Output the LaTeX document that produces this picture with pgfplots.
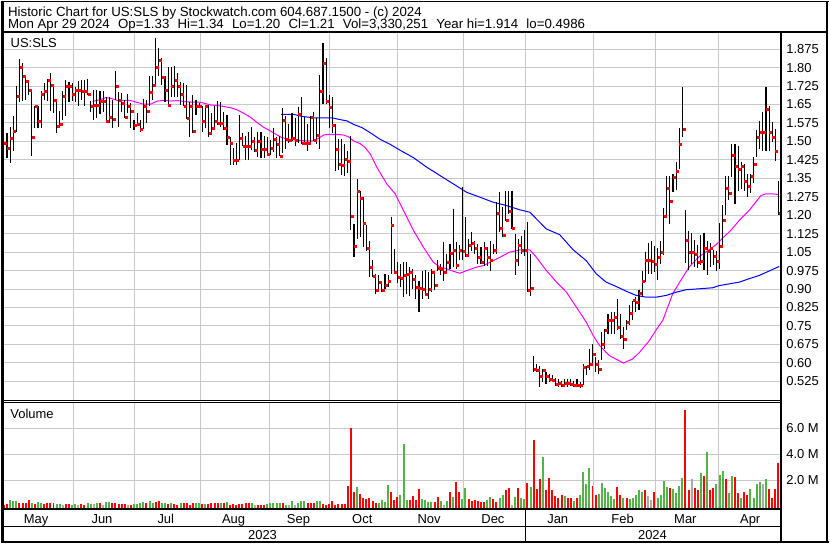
\documentclass[border=0pt]{standalone}
\usepackage{pgfplots}
\pgfplotsset{compat=1.18}
\usepackage{pgfplotstable}
\usepackage{fontspec}
\setmainfont{Liberation Sans}
\definecolor{vgreen}{RGB}{80,180,70}
\definecolor{vred}{RGB}{255,0,0}
\definecolor{vgray}{RGB}{170,170,170}
\definecolor{gridc}{RGB}{200,200,200}
\definecolor{maline}{RGB}{255,0,255}
\definecolor{baline}{RGB}{0,0,255}
\newcommand\hfont{\fontsize{13.3bp}{16bp}\selectfont}
\newcommand\lfont{\fontsize{13bp}{15bp}\selectfont}
\newcommand\gap{\hspace{8.3bp}}

\pgfplotstableread{
i hi lo cl
0 1.513 1.411 1.492
1 1.533 1.431 1.472
2 1.560 1.411 1.513
3 1.604 1.463 1.540
4 1.726 1.540 1.682
5 1.834 1.662 1.800
6 1.818 1.666 1.764
7 1.764 1.669 1.743
8 1.743 1.689 1.709
9 1.705 1.441 1.519
10 1.644 1.553 1.642
11 1.642 1.553 1.581
12 1.705 1.553 1.692
13 1.739 1.669 1.703
14 1.753 1.666 1.750
15 1.777 1.624 1.730
16 1.734 1.614 1.669
17 1.665 1.533 1.560
18 1.624 1.565 1.571
19 1.703 1.587 1.682
20 1.750 1.604 1.726
21 1.743 1.662 1.723
22 1.737 1.666 1.692
23 1.720 1.662 1.709
24 1.746 1.644 1.709
25 1.750 1.669 1.703
26 1.750 1.642 1.703
27 1.753 1.689 1.692
28 1.665 1.621 1.642
29 1.709 1.585 1.648
30 1.709 1.594 1.648
31 1.705 1.612 1.662
32 1.703 1.621 1.662
33 1.682 1.576 1.581
34 1.680 1.575 1.600
35 1.669 1.553 1.590
36 1.787 1.669 1.723
37 1.699 1.560 1.669
38 1.696 1.621 1.655
39 1.669 1.594 1.598
40 1.692 1.614 1.642
41 1.655 1.553 1.621
42 1.587 1.547 1.567
43 1.614 1.567 1.570
44 1.587 1.540 1.551
45 1.671 1.549 1.642
46 1.669 1.574 1.621
47 1.764 1.642 1.699
48 1.766 1.669 1.730
49 1.920 1.723 1.800
50 1.879 1.764 1.832
51 1.838 1.730 1.760
52 1.764 1.662 1.709
53 1.804 1.648 1.648
54 1.804 1.682 1.723
55 1.807 1.682 1.750
56 1.777 1.682 1.723
57 1.743 1.648 1.692
58 1.737 1.644 1.644
59 1.730 1.590 1.594
60 1.662 1.519 1.642
61 1.689 1.533 1.540
62 1.669 1.608 1.642
63 1.655 1.635 1.642
64 1.644 1.540 1.581
65 1.648 1.553 1.642
66 1.648 1.519 1.533
67 1.614 1.540 1.553
68 1.642 1.547 1.581
69 1.665 1.567 1.574
70 1.662 1.560 1.574
71 1.621 1.547 1.553
72 1.608 1.486 1.519
73 1.519 1.404 1.492
74 1.472 1.404 1.422
75 1.492 1.404 1.422
76 1.608 1.425 1.513
77 1.533 1.481 1.481
78 1.522 1.425 1.481
79 1.540 1.425 1.481
80 1.560 1.465 1.499
81 1.519 1.458 1.465
82 1.540 1.438 1.502
83 1.540 1.431 1.468
84 1.522 1.431 1.468
85 1.519 1.448 1.449
86 1.506 1.445 1.472
87 1.553 1.458 1.510
88 1.519 1.431 1.490
89 1.522 1.441 1.441
90 1.635 1.452 1.587
91 1.604 1.468 1.509
92 1.572 1.495 1.504
93 1.617 1.502 1.513
94 1.597 1.481 1.504
95 1.640 1.495 1.610
96 1.681 1.488 1.492
97 1.600 1.488 1.492
98 1.570 1.461 1.492
99 1.604 1.495 1.597
100 1.621 1.502 1.506
101 1.597 1.488 1.526
102 1.770 1.468 1.705
103 1.899 1.651 1.817
104 1.841 1.651 1.665
105 1.688 1.556 1.638
106 1.681 1.536 1.567
107 1.570 1.379 1.468
108 1.509 1.385 1.406
109 1.509 1.362 1.404
110 1.488 1.360 1.429
111 1.460 1.370 1.420
112 1.520 1.138 1.195
113 1.165 1.029 1.073
114 1.348 1.104 1.298
115 1.300 1.111 1.269
116 1.273 1.070 1.168
117 1.162 1.056 1.066
118 1.097 0.948 0.989
119 1.016 0.948 0.951
120 0.962 0.880 0.894
121 0.955 0.901 0.928
122 0.921 0.887 0.894
123 0.959 0.901 0.914
124 0.955 0.907 0.930
125 1.192 0.962 1.158
126 1.061 0.964 0.968
127 1.009 0.924 0.948
128 1.002 0.907 0.944
129 1.009 0.867 0.955
130 1.009 0.880 0.962
131 0.989 0.873 0.968
132 0.982 0.901 0.941
133 0.955 0.860 0.907
134 0.934 0.806 0.905
135 0.975 0.860 0.901
136 0.978 0.873 0.878
137 0.968 0.860 0.901
138 0.982 0.887 0.968
139 0.975 0.894 0.917
140 1.016 0.975 0.985
141 1.002 0.955 0.982
142 1.090 0.934 0.968
143 1.043 0.975 1.009
144 1.083 0.982 1.046
145 1.226 0.989 1.056
146 1.090 0.982 0.995
147 1.077 1.016 1.056
148 1.314 1.016 1.054
149 1.192 1.029 1.039
150 1.104 1.043 1.077
151 1.131 1.056 1.086
152 1.097 1.043 1.066
153 1.083 1.002 1.029
154 1.070 1.002 1.009
155 1.090 0.995 1.066
156 1.070 0.995 1.029
157 1.097 0.975 1.018
158 1.083 1.043 1.059
159 1.253 1.043 1.208
160 1.294 1.131 1.147
161 1.233 1.111 1.117
162 1.300 1.178 1.178
163 1.300 1.206 1.215
164 1.300 1.144 1.147
165 1.124 0.955 1.016
166 1.104 0.995 1.077
167 1.117 1.043 1.059
168 1.138 1.036 1.057
169 1.172 0.887 0.894
170 1.043 0.873 0.903
171 0.626 0.563 0.576
172 0.596 0.563 0.572
173 0.589 0.501 0.545
174 0.576 0.522 0.569
175 0.562 0.515 0.545
176 0.555 0.522 0.535
177 0.549 0.525 0.530
178 0.539 0.504 0.515
179 0.535 0.501 0.518
180 0.528 0.501 0.508
181 0.535 0.515 0.518
182 0.535 0.501 0.518
183 0.535 0.505 0.512
184 0.528 0.501 0.511
185 0.535 0.503 0.511
186 0.521 0.499 0.508
187 0.596 0.508 0.582
188 0.589 0.549 0.585
189 0.657 0.569 0.596
190 0.677 0.589 0.634
191 0.623 0.562 0.596
192 0.610 0.555 0.573
193 0.725 0.610 0.677
194 0.738 0.657 0.732
195 0.799 0.718 0.772
196 0.806 0.718 0.775
197 0.806 0.718 0.786
198 0.860 0.732 0.745
199 0.799 0.698 0.708
200 0.745 0.657 0.698
201 0.772 0.732 0.765
202 0.833 0.752 0.802
203 0.853 0.772 0.853
204 0.867 0.806 0.846
205 0.894 0.813 0.883
206 0.975 0.870 0.931
207 1.050 0.930 1.016
208 1.089 0.960 1.019
209 1.094 0.960 1.012
210 1.076 0.970 1.001
211 1.066 0.937 1.029
212 1.094 1.000 1.050
213 1.230 1.040 1.197
214 1.361 1.190 1.310
215 1.361 1.166 1.257
216 1.368 1.294 1.355
217 1.416 1.301 1.379
218 1.553 1.389 1.487
219 1.722 1.517 1.549
220 1.223 1.005 1.100
221 1.135 0.978 1.049
222 1.128 1.000 1.049
223 1.100 0.991 1.043
224 1.080 0.984 1.009
225 1.121 0.998 1.012
226 1.128 0.978 1.066
227 1.094 0.957 1.053
228 1.087 0.990 1.066
229 1.060 0.998 1.032
230 1.053 0.975 1.015
231 1.169 0.980 1.073
232 1.240 1.080 1.179
233 1.361 1.200 1.310
234 1.361 1.260 1.290
235 1.490 1.355 1.443
236 1.490 1.247 1.398
237 1.483 1.300 1.389
238 1.416 1.308 1.398
239 1.409 1.300 1.337
240 1.368 1.274 1.318
241 1.368 1.290 1.359
242 1.436 1.330 1.406
243 1.547 1.436 1.517
244 1.584 1.470 1.537
245 1.621 1.463 1.537
246 1.722 1.463 1.632
247 1.645 1.463 1.537
248 1.578 1.497 1.517
249 1.551 1.422 1.460
250 1.340 1.200 1.210
}\prices

\pgfplotsset{
  panel/.style={
    anchor=south west, scale only axis, width=780.5bp,
    xmin=-0.386, xmax=250.9,
    axis line style={draw=none},
    xtick={22.3,42.0,63.3,85.6,105,126.9,148.2,168.5,190.4,210.3,230.6},
    xticklabels={},
    major tick length=0pt,
    grid=major, grid style={gridc, line width=1bp},
    yticklabel pos=right,
    yticklabel style={anchor=west, inner sep=0pt, xshift=5bp, font=\lfont},
  },
  volbar/.style={draw=none, no markers, forget plot,
    error bars/.cd, y dir=minus, y fixed=20, error mark=none,
    error bar style={draw=#1, line width=2bp}},
}

\begin{document}
\begin{tikzpicture}[x=1bp,y=1bp]
\fill[white] (0,0) rectangle (830,543);

\begin{axis}[panel, at={(1.5bp,143bp)}, height=369bp,
  ymin=0.448, ymax=1.9439,
  ytick={0.525,0.6,0.675,0.75,0.825,0.9,0.975,1.05,1.125,1.2,1.275,1.35,1.425,1.5,1.575,1.65,1.725,1.8,1.875},
  yticklabels={0.525,0.60,0.675,0.75,0.825,0.90,0.975,1.05,1.125,1.20,1.275,1.35,1.425,1.50,1.575,1.65,1.725,1.80,1.875},
]
\addplot[maline, line width=1bp, no markers] coordinates {
(28.65,1.662)(31.33,1.671)(32.94,1.678)(34.55,1.675)(36.70,1.666)(38.83,1.667)(40.98,1.666)(43.14,1.658)(45.27,1.651)(47.42,1.652)(49.58,1.664)(51.71,1.667)(53.86,1.664)(56.02,1.666)(58.15,1.662)(60.30,1.660)(63.52,1.659)(66.74,1.648)(69.96,1.644)(73.18,1.637)(75.34,1.628)(77.46,1.614)(79.62,1.598)(81.78,1.576)(83.90,1.557)(86.06,1.542)(89.28,1.518)(91.44,1.509)(94.66,1.505)(97.87,1.502)(100.0,1.502)(101.6,1.513)(103.2,1.526)(104.8,1.529)(107.0,1.529)(109.7,1.526)(111.3,1.518)(112.9,1.502)(115.0,1.491)(116.6,1.475)(118.3,1.448)(120.4,1.395)(123.6,1.327)(126.3,1.287)(129.0,1.219)(132.2,1.138)(135.4,1.070)(138.6,1.009)(140.8,0.989)(143.0,0.982)(145.1,0.972)(147.2,0.964)(149.4,0.975)(152.6,0.989)(154.7,0.995)(156.9,1.009)(160.1,1.029)(163.3,1.050)(166.5,1.059)(169.8,1.059)(171.9,1.029)(175.1,0.975)(178.4,0.928)(181.6,0.887)(184.8,0.826)(188.0,0.765)(190.2,0.711)(192.3,0.670)(195.5,0.629)(200.0,0.599)(203.0,0.616)(205.2,0.643)(208.4,0.691)(210.6,0.735)(212.7,0.773)(214.3,0.827)(215.9,0.881)(218.6,0.937)(221.3,0.991)(224.5,1.032)(227.7,1.060)(229.9,1.080)(232.0,1.107)(234.7,1.139)(237.4,1.179)(240.6,1.220)(242.7,1.253)(244.4,1.280)(246.0,1.287)(248.1,1.287)(250.0,1.284)};
\addplot[baline, line width=1bp, no markers] coordinates {
(89.5,1.610)(93.56,1.610)(95.72,1.603)(97.87,1.599)(100.0,1.596)(103.2,1.596)(105.9,1.596)(108.0,1.590)(110.8,1.583)(112.9,1.569)(115.6,1.556)(118.3,1.535)(121.5,1.508)(124.7,1.488)(127.9,1.464)(132.2,1.434)(136.5,1.395)(140.8,1.361)(145.1,1.327)(149.4,1.293)(153.7,1.273)(157.9,1.253)(162.3,1.239)(166.5,1.222)(169.8,1.212)(171.9,1.185)(175.1,1.144)(179.4,1.121)(183.7,1.060)(188.0,1.015)(191.2,0.962)(194.4,0.928)(197.7,0.910)(200.9,0.891)(204.1,0.874)(207.3,0.867)(210.6,0.867)(213.8,0.874)(217.0,0.887)(220.2,0.897)(224.5,0.901)(228.8,0.905)(230.9,0.914)(234.2,0.921)(237.4,0.928)(240.6,0.942)(243.8,0.955)(247.0,0.973)(250.3,0.992)};
\addplot[draw=none, no markers, error bars/.cd, y dir=minus, y explicit, error mark=none,
  error bar style={draw=black, line width=1.1bp}]
  table[x=i, y=hi, y error minus expr=\thisrow{hi}-\thisrow{lo}] {\prices};
\addplot[only marks, mark=square*, mark size=1bp, color=vred,
  every mark/.append style={xshift=1.4bp}] table[x=i, y=cl] {\prices};
\end{axis}

\begin{axis}[panel, at={(1.5bp,33.7bp)}, height=107.3bp,
  ymin=-0.255, ymax=8.03,
  ytick={2,4,6}, yticklabels={2.0 M,4.0 M,6.0 M},
]
\addplot[volbar=vred] coordinates {
(0,0.10)(1,0.15)(5,0.25)(6,0.25)(7,0.25)(8,0.45)(10,0.15)(13,0.15)(14,0.25)(15,0.20)(16,0.25)(20,0.15)(21,0.15)(25,0.12)(26,0.10)(31,0.25)(35,0.25)(36,0.20)(37,0.15)(38,0.15)(39,0.15)(41,0.05)(46,0.20)(49,0.30)(50,0.35)(53,0.15)(55,0.15)(56,0.10)(58,0.25)(59,0.20)(60,0.10)(61,0.20)(64,0.15)(66,0.15)(67,0.20)(68,0.20)(69,0.20)(71,0.25)(73,0.10)(74,0.15)(75,0.10)(76,0.15)(77,0.15)(78,0.20)(79,0.20)(82,0.10)(83,0.10)(84,0.10)(90,0.20)(98,0.20)(99,0.25)(100,0.25)(103,0.15)(104,0.10)(105,0.15)(106,0.38)(107,0.10)(108,0.15)(109,0.15)(110,0.12)(111,1.55)(112,6.00)(113,1.10)(115,0.90)(116,0.65)(117,0.55)(118,0.62)(119,0.38)(120,0.25)(125,1.10)(126,0.45)(127,0.70)(131,0.45)(132,0.80)(133,0.45)(134,1.30)(139,0.30)(140,0.67)(144,1.10)(146,1.87)(147,1.10)(150,0.50)(151,0.38)(152,0.45)(153,0.38)(154,0.30)(155,0.30)(158,0.50)(159,0.30)(162,1.25)(163,1.37)(166,1.37)(169,1.75)(171,5.10)(172,1.30)(173,2.10)(175,1.20)(176,2.20)(177,1.20)(178,0.75)(179,0.62)(180,0.87)(182,0.62)(183,0.62)(185,0.62)(190,1.55)(191,0.87)(198,1.45)(199,0.87)(201,0.62)(207,1.20)(210,1.10)(215,1.37)(220,7.40)(221,1.25)(223,1.37)(224,1.20)(226,2.30)(228,1.20)(229,1.37)(233,2.10)(236,2.25)(237,1.00)(239,1.10)(240,0.87)(247,1.30)(248,0.62)(249,1.30)(250,3.33)};
\addplot[volbar=vgreen] coordinates {
(2,0.45)(3,0.35)(4,0.40)(9,0.20)(11,0.30)(12,0.25)(17,0.15)(18,0.15)(22,0.10)(23,0.12)(27,0.20)(28,0.15)(30,0.20)(33,0.30)(34,0.30)(42,0.15)(43,0.15)(44,0.20)(45,0.30)(47,0.40)(48,0.25)(51,0.20)(52,0.25)(54,0.20)(57,0.25)(62,0.20)(63,0.25)(65,0.15)(70,0.20)(72,0.30)(80,0.25)(85,0.15)(86,0.20)(87,0.20)(88,0.20)(89,0.25)(91,0.10)(93,0.40)(95,0.25)(96,0.35)(97,0.40)(101,0.35)(102,0.40)(114,1.50)(121,0.25)(122,0.45)(123,0.32)(124,1.65)(128,0.82)(129,4.80)(130,0.45)(135,0.55)(136,0.45)(137,0.30)(138,0.30)(141,0.38)(143,0.38)(145,0.67)(148,0.50)(149,1.37)(156,0.45)(157,0.70)(160,0.62)(161,0.87)(165,0.67)(167,0.62)(168,0.50)(170,1.45)(174,3.75)(181,0.75)(184,0.38)(186,0.87)(187,2.60)(188,1.70)(189,2.95)(192,0.95)(193,1.80)(194,1.37)(195,1.10)(196,0.80)(197,0.55)(200,0.62)(202,0.55)(203,0.62)(204,0.87)(205,1.25)(206,1.10)(211,0.62)(212,0.87)(213,1.95)(214,1.50)(216,1.30)(217,1.00)(218,1.55)(219,2.20)(225,2.55)(227,4.20)(230,1.70)(231,2.40)(232,2.70)(234,1.00)(235,2.30)(238,0.62)(241,1.30)(242,0.62)(243,1.70)(244,1.87)(246,2.10)};
\addplot[volbar=vgray] coordinates {
(19,0.05)(24,0.10)(29,0.15)(32,0.05)(40,0.10)(81,0.05)(92,0.10)(94,0.10)(142,0.05)(164,0.05)(208,0.75)(209,0.45)(222,2.10)(245,1.70)};
\end{axis}

% frame lines
\draw[line width=1bp] (0,143) -- (782,143);
\draw[line width=1bp] (0,141) -- (782,141);
\draw[line width=1.7bp] (0,33.7) -- (782,33.7);
\draw[line width=1.7bp] (0,16.3) -- (782,16.3);
\draw[line width=1.7bp] (781.7,0) -- (781.7,512.3);
\draw[line width=1.7bp] (525.7,1) -- (525.7,33.7);
\draw[line width=2.5bp] (0,512.3) -- (829,512.3);
\draw[line width=2.6bp] (1.3,0) -- (1.3,543);
\draw[line width=2bp] (0,1.2) -- (830,1.2);
\draw[line width=1.7bp] (828.2,0) -- (828.2,543);
\draw[line width=1bp] (0,542.5) -- (830,542.5);

% texts
\begin{scope}[every node/.style={inner sep=0pt}]
\node[anchor=base west] at (6.7,528) {\hfont Historic Chart for US:SLS by Stockwatch.com 604.687.1500 - (c) 2024};
\node[anchor=base west] at (6.7,515.9) {\hfont Mon Apr 29 2024\gap Op=1.33\gap Hi=1.34\gap Lo=1.20\gap Cl=1.21\gap Vol=3,330,251\gap Year hi=1.914\gap lo=0.4986};
\node[anchor=base west] at (9.3,496.5) {\lfont US:SLS};
\node[anchor=base west] at (9,125) {\lfont Volume};
\node[anchor=base] at (35,19.5) {\lfont May};
\node[anchor=base] at (101,19.5) {\lfont Jun};
\node[anchor=base] at (165,19.5) {\lfont Jul};
\node[anchor=base] at (233,19.5) {\lfont Aug};
\node[anchor=base] at (298,19.5) {\lfont Sep};
\node[anchor=base] at (362,19.5) {\lfont Oct};
\node[anchor=base] at (429,19.5) {\lfont Nov};
\node[anchor=base] at (493,19.5) {\lfont Dec};
\node[anchor=base] at (558,19.5) {\lfont Jan};
\node[anchor=base] at (623,19.5) {\lfont Feb};
\node[anchor=base] at (686,19.5) {\lfont Mar};
\node[anchor=base] at (751,19.5) {\lfont Apr};
\node[anchor=base] at (262,3.5) {\lfont 2023};
\node[anchor=base] at (653,3.5) {\lfont 2024};
\end{scope}
\end{tikzpicture}
\end{document}
